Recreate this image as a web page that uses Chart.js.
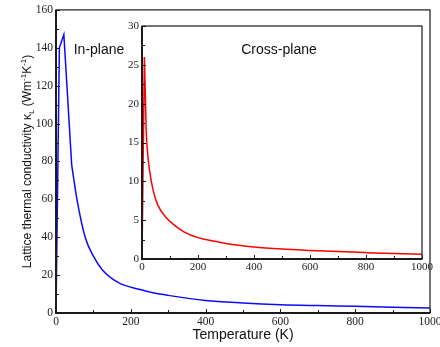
<!DOCTYPE html>
<html lang="en">
<head>
<meta charset="UTF-8">
<title>Lattice thermal conductivity</title>
<script src="https://cdn.jsdelivr.net/npm/chart.js"></script>
<style>
  html, body { margin: 0; padding: 0; background: #fff; overflow: hidden; }
  #wrap { position: relative; width: 440px; height: 347px; overflow: hidden; }
  /* main canvas a bit wider than the window so the "1000" label gets cut like the original */
  #mainBox { position: absolute; left: 0; top: 0; width: 452px; height: 347px; }
  #insetBox { position: absolute; left: 100px; top: 16px; width: 340px; height: 265px; }
</style>
</head>
<body>
<div id="wrap">
  <div id="mainBox"><canvas id="mainChart"></canvas></div>
  <div id="insetBox"><canvas id="insetChart"></canvas></div>
</div>
<script>
// in-plane kappa_L (main plot)
const inPlaneT = [0, 9, 21, 42, 56, 78, 100, 123, 167, 225, 256, 300, 400, 500, 600, 700, 800, 900, 1000]
const inPlaneK = [0, 140, 147, 78, 60, 40, 30, 23, 16, 12.4, 10.8, 9.3, 6.6, 5.3, 4.4, 3.9, 3.5, 3.0, 2.6]
const inPlaneKink = 3   // points up to here are joined by straight lines (sharp peak)

// cross-plane kappa_L (inset)
const crossT = [0, 8.5, 12, 15, 18, 27, 40, 57, 87, 111, 150, 200, 250, 300, 400, 500, 600, 700, 800, 900, 1000]
const crossK = [0, 26, 21, 16.5, 14.5, 11.4, 8.8, 6.9, 5.3, 4.5, 3.5, 2.75, 2.35, 2.0, 1.55, 1.28, 1.1, 0.95, 0.82, 0.7, 0.6]
const crossKink = 3

// axis ranges / tick steps
const mainXRange = [0, 1000], mainXStep = 100, mainXLabelEvery = 200
const mainYRange = [0, 160], mainYStep = 10, mainYLabelEvery = 20
const insetXRange = [0, 1000], insetXStep = 100, insetXLabelEvery = 200
const insetYRange = [0, 30], insetYStep = 2.5, insetYLabelEvery = 5

const serif = 'Liberation Serif'
const sans = 'Liberation Sans'

function pts(xs, ys) {
    return xs.map((x, i) => ({x: x, y: ys[i]}))
}

// inward tick marks + frame, drawn by hand (chart.js only does outward ticks)
function drawFrame(chart, xStep, xEvery, yStep, yEvery) {
    const ctx = chart.ctx, a = chart.chartArea
    const xs = chart.scales.x, ys = chart.scales.y
    ctx.save()
    ctx.strokeStyle = '#1a1a1a'
    ctx.lineWidth = 1
    for (let v = xs.min; v <= xs.max + 1e-9; v += xStep) {
        let px = Math.round(xs.getPixelForValue(v)) + 0.5
        let len = (Math.abs(v % xEvery) < 1e-9) ? 4 : 3
        ctx.beginPath(); ctx.moveTo(px, a.bottom); ctx.lineTo(px, a.bottom - len); ctx.stroke()
    }
    for (let v = ys.min; v <= ys.max + 1e-9; v += yStep) {
        let py = Math.round(ys.getPixelForValue(v)) + 0.5
        let len = (Math.abs(v % yEvery) < 1e-9) ? 4 : 3
        ctx.beginPath(); ctx.moveTo(a.left, py); ctx.lineTo(a.left + len, py); ctx.stroke()
    }
    ctx.lineWidth = 1.2
    ctx.strokeRect(a.left, a.top, a.right - a.left, a.bottom - a.top)
    // left and bottom axes are heavier
    ctx.lineWidth = 2
    ctx.beginPath()
    ctx.moveTo(a.left, a.top); ctx.lineTo(a.left, a.bottom); ctx.lineTo(a.right, a.bottom)
    ctx.stroke()
    ctx.restore()
}

function drawYTitle(chart) {
    const ctx = chart.ctx, a = chart.chartArea
    const parts = [
        ['Lattice thermal conductivity \u03BA', '12px "' + sans + '"', 0],
        ['L', '8px "' + sans + '"', 3],
        [' (Wm', '12px "' + sans + '"', 0],
        ['-1', '8px "' + sans + '"', -5],
        ['K', '12px "' + sans + '"', 0],
        ['-1', '8px "' + sans + '"', -5],
        [')', '12px "' + sans + '"', 0]
    ]
    ctx.save()
    ctx.translate(27, (a.top + a.bottom) / 2)
    ctx.rotate(-Math.PI / 2)
    ctx.fillStyle = '#111'
    ctx.textBaseline = 'alphabetic'
    let total = 0
    for (let p of parts) { ctx.font = p[1]; total += ctx.measureText(p[0]).width }
    let x = -total / 2
    for (let p of parts) {
        ctx.font = p[1]
        ctx.fillText(p[0], x, 4 + p[2])
        x += ctx.measureText(p[0]).width
    }
    ctx.restore()
}

const mainPlugin = {
    id: 'mainDeco',
    afterDraw(chart) {
        drawFrame(chart, mainXStep, mainXLabelEvery, mainYStep, mainYLabelEvery)
        drawYTitle(chart)
        let ctx = chart.ctx
        ctx.save()
        ctx.font = '14px "' + sans + '"'
        ctx.fillStyle = '#111'
        ctx.textAlign = 'center'
        ctx.textBaseline = 'middle'
        ctx.fillText('In-plane', 99, 50)
        ctx.restore()
    }
}

const insetPlugin = {
    id: 'insetDeco',
    beforeDraw(chart) {
        let a = chart.chartArea, ctx = chart.ctx
        ctx.save()
        ctx.fillStyle = '#fff'
        ctx.fillRect(a.left, a.top, a.right - a.left, a.bottom - a.top)
        ctx.restore()
    },
    afterDraw(chart) {
        drawFrame(chart, insetXStep, insetXLabelEvery, insetYStep, insetYLabelEvery)
        let ctx = chart.ctx
        ctx.save()
        ctx.font = '14px "' + sans + '"'
        ctx.fillStyle = '#111'
        ctx.textAlign = 'center'
        ctx.textBaseline = 'middle'
        ctx.fillText('Cross-plane', 179, 34)
        ctx.restore()
    }
}

// sharp part (straight segments) + smooth tail, same curve
function curveSets(xs, ys, kink, color) {
    const base = {borderColor: color, borderWidth: 1.5, pointRadius: 0, fill: false}
    return [
        Object.assign({data: pts(xs.slice(0, kink + 1), ys.slice(0, kink + 1)), tension: 0}, base),
        Object.assign({data: pts(xs.slice(kink), ys.slice(kink)), cubicInterpolationMode: 'monotone'}, base)
    ]
}

function axes(xRange, xStep, xEvery, yRange, yStep, yEvery, yWidth, xHeight, fontSize, xTitle) {
    return {
        x: {
            type: 'linear', min: xRange[0], max: xRange[1],
            afterFit: s => { s.height = xHeight },
            grid: {display: false, drawTicks: false},
            border: {display: false},
            ticks: {
                stepSize: xStep, autoSkip: false, maxRotation: 0, padding: 2,
                color: '#222', font: {family: serif, size: fontSize},
                callback: v => (v % xEvery === 0 ? v : '')
            },
            title: xTitle
        },
        y: {
            type: 'linear', min: yRange[0], max: yRange[1],
            afterFit: s => { s.width = yWidth },
            grid: {display: false, drawTicks: false},
            border: {display: false},
            ticks: {
                stepSize: yStep, autoSkip: false, padding: 3,
                color: '#222', font: {family: serif, size: fontSize},
                callback: v => (v % yEvery === 0 ? v : '')
            }
        }
    }
}

Chart.defaults.animation = false

new Chart(document.getElementById('mainChart'), {
    type: 'line',
    data: { datasets: curveSets(inPlaneT, inPlaneK, inPlaneKink, '#0a0aff') },
    options: {
        responsive: true,
        maintainAspectRatio: false,
        devicePixelRatio: 1,
        layout: {padding: {left: 0, top: 9, right: 22, bottom: 0}},
        plugins: {legend: {display: false}, tooltip: {enabled: false}},
        scales: axes(mainXRange, mainXStep, mainXLabelEvery, mainYRange, mainYStep, mainYLabelEvery, 56, 34, 11.5, {
            display: true, text: 'Temperature (K)', color: '#111',
            font: {family: sans, size: 14}, padding: {top: 0, bottom: 3.6}
        })
    },
    plugins: [mainPlugin]
})

new Chart(document.getElementById('insetChart'), {
    type: 'line',
    data: { datasets: curveSets(crossT, crossK, crossKink, '#ff0000') },
    options: {
        responsive: true,
        maintainAspectRatio: false,
        devicePixelRatio: 1,
        layout: {padding: {left: 0, top: 10, right: 18, bottom: 0}},
        plugins: {legend: {display: false}, tooltip: {enabled: false}},
        scales: axes(insetXRange, insetXStep, insetXLabelEvery, insetYRange, insetYStep, insetYLabelEvery, 42, 22, 11, {display: false})
    },
    plugins: [insetPlugin]
})
</script>
</body>
</html>
